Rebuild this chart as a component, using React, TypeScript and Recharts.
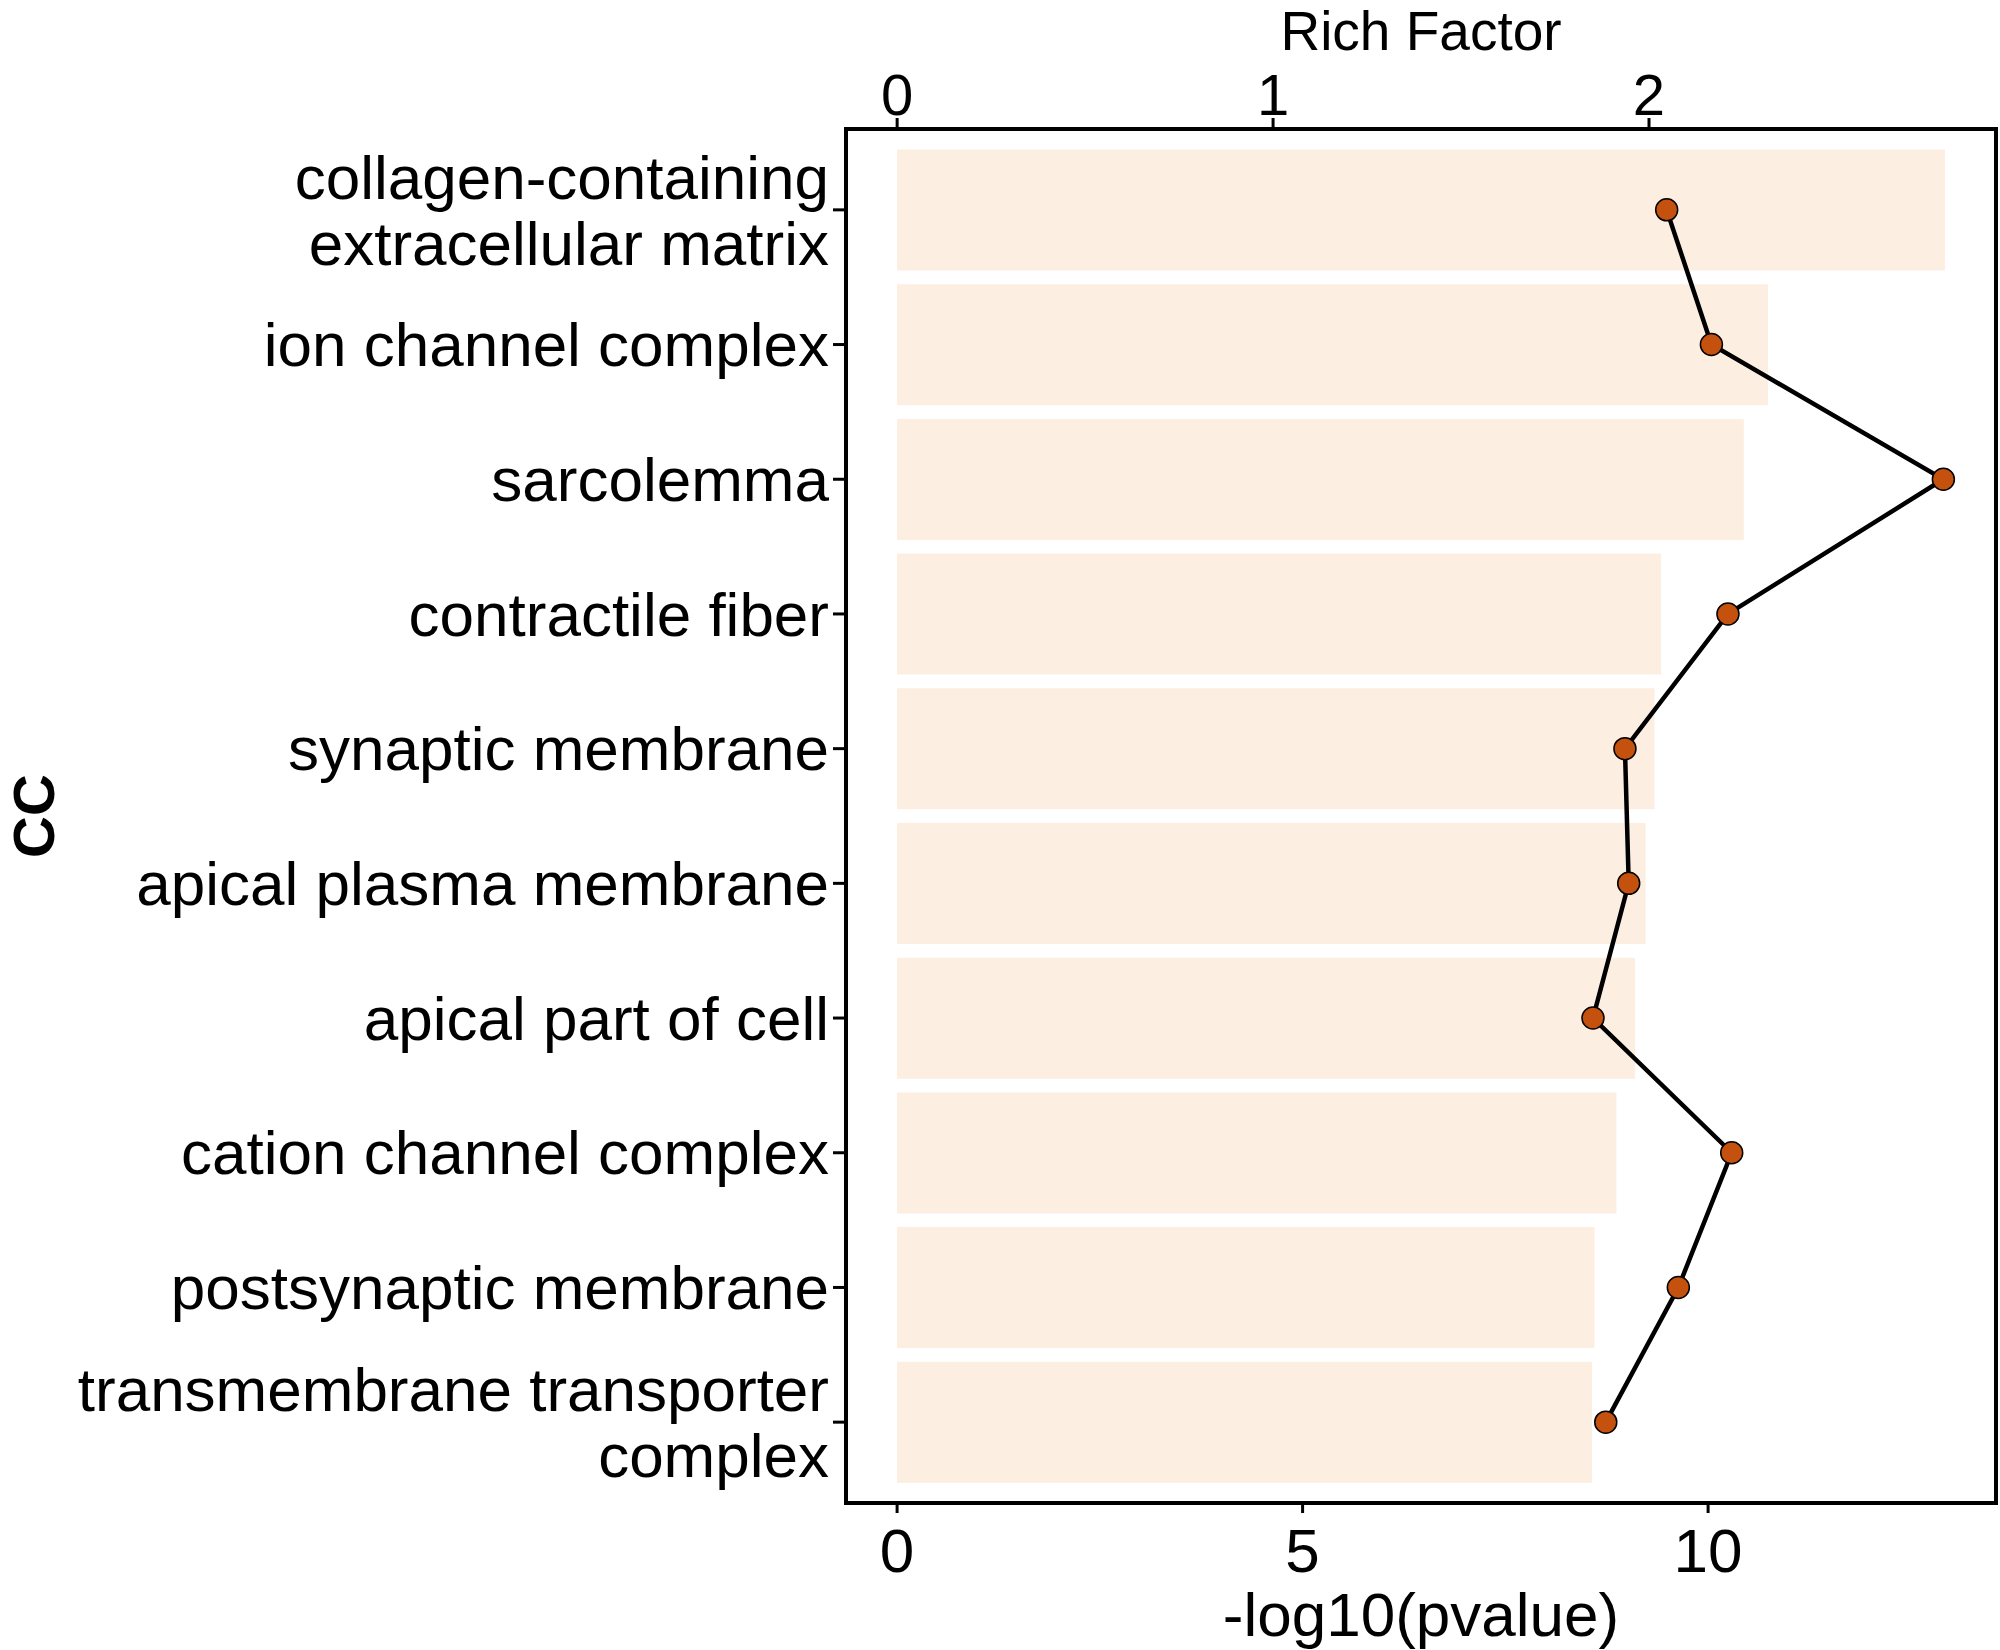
import React from 'react'
import { ComposedChart, Bar, Line, XAxis, YAxis } from 'recharts'

const terms = [
  'collagen-containing\nextracellular matrix',
  'ion channel complex',
  'sarcolemma',
  'contractile fiber',
  'synaptic membrane',
  'apical plasma membrane',
  'apical part of cell',
  'cation channel complex',
  'postsynaptic membrane',
  'transmembrane transporter\ncomplex',
]
const logP = [12.92, 10.74, 10.44, 9.42, 9.34, 9.23, 9.1, 8.87, 8.6, 8.57]
const richFactor = [2.047, 2.166, 2.783, 2.21, 1.936, 1.946, 1.851, 2.22, 2.078, 1.885]
const pTicks = [0, 5, 10]
const richTicks = [0, 1, 2]

const pDomain = [-0.63, 13.55]
const richDomain = [-0.136, 2.923]

const data = terms.map((name, i) => ({ name, logP: logP[i], rich: richFactor[i] }))

const FONT = 62

const TermTick = (props: any) => {
  const { x, y, payload } = props
  const lines = String(payload.value).split('\n')
  const gap = 66
  const start = -((lines.length - 1) * gap) / 2
  return (
    <g>
      {lines.map((l, i) => (
        <text
          key={i}
          x={x}
          y={y + start + i * gap + FONT * 0.35}
          textAnchor="end"
          fontSize={FONT}
          fill="#000"
        >
          {l}
        </text>
      ))}
    </g>
  )
}

export default function App() {
  const axisLine = { stroke: '#000', strokeWidth: 4, strokeLinecap: 'square' as const }
  const tickLine = { stroke: '#000', strokeWidth: 3 }
  return (
    <div style={{ position: 'fixed', left: 0, top: 0, background: '#fff' }}>
      <ComposedChart
        width={2000}
        height={1650}
        data={data}
        layout="vertical"
        margin={{ top: 0, right: 0, bottom: 0, left: 0 }}
        style={{ fontFamily: '"Liberation Sans", Arial, sans-serif' }}
      >
        <XAxis
          xAxisId="top"
          orientation="top"
          type="number"
          domain={richDomain}
          ticks={richTicks}
          height={129}
          tickSize={11}
          tickMargin={3}
          axisLine={axisLine}
          tickLine={tickLine}
          tick={{ fontSize: 58, fill: '#000' }}
          label={{
            content: (p: any) => {
              const vb = p.viewBox
              return (
                <text x={vb.x + vb.width / 2} y={vb.y + 50} textAnchor="middle" fontSize={55} fill="#000">
                  Rich Factor
                </text>
              )
            },
          }}
        />
        <XAxis
          xAxisId="bottom"
          orientation="bottom"
          type="number"
          domain={pDomain}
          ticks={pTicks}
          height={147}
          tickSize={10}
          tickMargin={15}
          axisLine={axisLine}
          tickLine={tickLine}
          tick={{ fontSize: FONT, fill: '#000' }}
          label={{
            content: (p: any) => {
              const vb = p.viewBox
              return (
                <text x={vb.x + vb.width / 2} y={vb.y + 133} textAnchor="middle" fontSize={FONT} fill="#000">
                  -log10(pvalue)
                </text>
              )
            },
          }}
        />
        <YAxis
          type="category"
          dataKey="name"
          width={846}
          padding={{ top: 13.5, bottom: 13.5 }}
          tickSize={13}
          tickMargin={4}
          axisLine={axisLine}
          tickLine={tickLine}
          tick={<TermTick />}
          interval={0}
          label={{
            content: (p: any) => {
              const vb = p.viewBox
              const cx = vb.x + 33
              const cy = vb.y + vb.height / 2
              return (
                <text
                  x={cx}
                  y={cy}
                  transform={`rotate(-90, ${cx}, ${cy})`}
                  textAnchor="middle"
                  dominantBaseline="central"
                  fontSize={58}
                  fontWeight="bold"
                  fill="#000"
                >
                  CC
                </text>
              )
            },
          }}
        />
        <YAxis
          yAxisId="right"
          orientation="right"
          type="category"
          dataKey="name"
          width={4}
          tick={false}
          tickLine={false}
          axisLine={axisLine}
        />
        <Bar xAxisId="bottom" dataKey="logP" fill="#FDEEE2" barSize={121} isAnimationActive={false} />
        <Line
          xAxisId="top"
          dataKey="rich"
          stroke="#000"
          strokeWidth={4.5}
          dot={{ r: 11, fill: '#C4520E', stroke: '#000', strokeWidth: 1.5 }}
          isAnimationActive={false}
        />
      </ComposedChart>
    </div>
  )
}
